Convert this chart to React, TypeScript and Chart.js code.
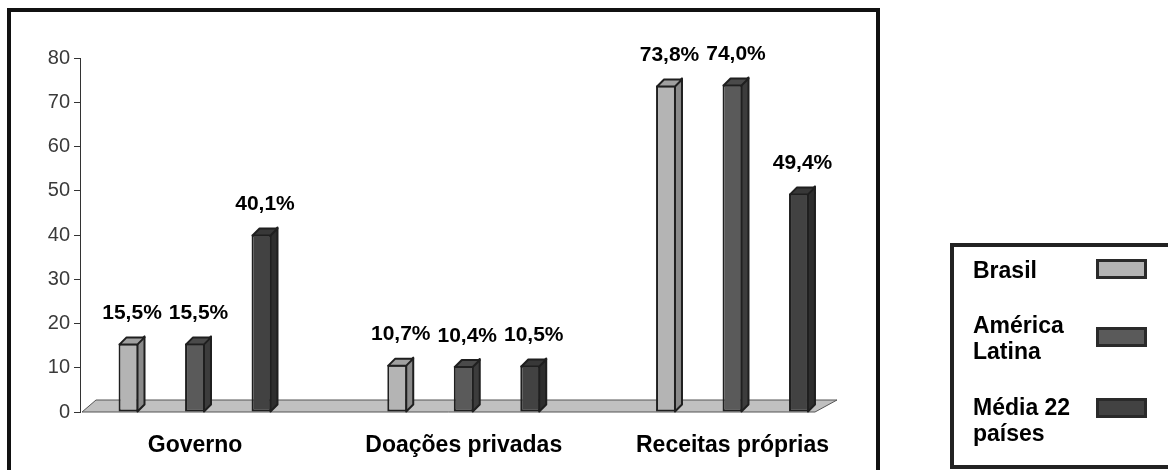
import React, { useEffect, useRef } from "react";
import { Chart, registerables } from "chart.js";

Chart.register(...registerables);

const categories = ["Governo", "Doações privadas", "Receitas próprias"];
const seriesNames = ["Brasil", "América Latina", "Média 22 países"];
const legendLines = [["Brasil"], ["América", "Latina"], ["Média 22", "países"]];
const brasil = [15.5, 10.7, 73.8];
const americaLatina = [15.5, 10.4, 74.0];
const media22 = [40.1, 10.5, 49.4];
const yTicks = [0, 10, 20, 30, 40, 50, 60, 70, 80];

const FONT = "'Liberation Sans', Arial, Helvetica, sans-serif";
const fronts = ["#b4b4b4", "#5a5a5a", "#424242"];
const sides = ["#8a8a8a", "#3c3c3c", "#2e2e2e"];
const tops = ["#a0a0a0", "#4a4a4a", "#383838"];
const EDGE = "#1f1f1f";
const DEPTH = 7;

const fmt = (v: number) => v.toFixed(1).replace(".", ",") + "%";

const threeD = {
  id: "threeD",
  beforeDatasetsDraw(chart: any) {
    const { ctx, chartArea, scales } = chart;
    const y0 = scales.y.getPixelForValue(0);
    ctx.save();
    ctx.beginPath();
    ctx.moveTo(chartArea.left + 2, y0);
    ctx.lineTo(chartArea.left + 16, y0 - 12);
    ctx.lineTo(chartArea.right - 3, y0 - 12);
    ctx.lineTo(chartArea.right - 25, y0);
    ctx.closePath();
    ctx.fillStyle = "#c0c0c0";
    ctx.fill();
    ctx.lineWidth = 1;
    ctx.strokeStyle = "#555";
    ctx.stroke();
    ctx.restore();
  },
  afterDatasetsDraw(chart: any) {
    const { ctx } = chart;
    ctx.save();
    chart.data.datasets.forEach((ds: any, di: number) => {
      const meta = chart.getDatasetMeta(di);
      meta.data.forEach((bar: any, i: number) => {
        const { x, y, base, width } = bar.getProps(["x", "y", "base", "width"], true);
        const L = x - width / 2;
        const R = x + width / 2;
        const d = DEPTH;
        ctx.lineWidth = 2;
        ctx.strokeStyle = EDGE;
        ctx.lineJoin = "round";
        ctx.beginPath();
        ctx.moveTo(R - 1, y);
        ctx.lineTo(R - 1 + d, y - d);
        ctx.lineTo(R - 1 + d, base - d);
        ctx.lineTo(R - 1, base);
        ctx.closePath();
        ctx.fillStyle = sides[di];
        ctx.fill();
        ctx.stroke();
        ctx.beginPath();
        ctx.moveTo(L + 1, y + 1);
        ctx.lineTo(L + 1 + d, y + 1 - d);
        ctx.lineTo(R - 1 + d, y + 1 - d);
        ctx.lineTo(R - 1, y + 1);
        ctx.closePath();
        ctx.fillStyle = tops[di];
        ctx.fill();
        ctx.stroke();
        ctx.fillStyle = "#000";
        ctx.font = `bold 21px ${FONT}`;
        ctx.textAlign = "center";
        ctx.textBaseline = "middle";
        ctx.fillText(fmt(ds.data[i].y), x + d / 2, y - 30);
      });
    });
    ctx.restore();
  },
  afterDraw(chart: any) {
    const { ctx } = chart;
    ctx.save();
    ctx.lineWidth = 4;
    ctx.strokeStyle = "#111";
    ctx.strokeRect(9, 10, 869, 500);
    ctx.strokeStyle = "#222";
    ctx.strokeRect(952, 245, 400, 222);
    ctx.font = `bold 23px ${FONT}`;
    ctx.fillStyle = "#000";
    ctx.textAlign = "left";
    ctx.textBaseline = "alphabetic";
    const firstBase = [278, 333, 415];
    const swatchTop = [259, 327, 398];
    legendLines.forEach((lines, k) => {
      lines.forEach((t, j) => ctx.fillText(t, 973, firstBase[k] + j * 26));
      ctx.fillStyle = fronts[k];
      ctx.fillRect(1097, swatchTop[k] + 1, 49, 18);
      ctx.lineWidth = 3;
      ctx.strokeStyle = "#2a2a2a";
      ctx.strokeRect(1097.5, swatchTop[k] + 1.5, 48, 17);
      ctx.fillStyle = "#000";
    });
    ctx.restore();
  },
};

export default function App() {
  const ref = useRef<HTMLCanvasElement | null>(null);
  useEffect(() => {
    if (!ref.current) return;
    const series = [brasil, americaLatina, media22];
    const chart = new Chart(ref.current, {
      type: "bar",
      data: {
        datasets: series.map((vals, k) => ({
          label: seriesNames[k],
          data: vals.map((v, i) => ({ x: i, y: v })),
          backgroundColor: fronts[k],
          borderColor: EDGE,
          borderWidth: 2,
          borderSkipped: false,
          categoryPercentage: 0.7423,
          barPercentage: 0.3,
        })),
      },
      options: {
        responsive: false,
        animation: false,
        layout: { padding: { left: 0, top: 58, right: 328, bottom: 0 } },
        plugins: { legend: { display: false }, tooltip: { enabled: false } },
        scales: {
          x: {
            type: "linear",
            offset: false,
            bounds: "data",
            min: -0.428,
            max: 2.4,
            afterBuildTicks: (s: any) => {
              s.ticks = categories.map((_, i) => ({ value: i }));
            },
            afterFit: (s: any) => {
              s.height = 58;
            },
            grid: { display: false, drawTicks: false, offset: false },
            border: { display: false },
            ticks: {
              autoSkip: false,
              maxRotation: 0,
              padding: 20,
              color: "#000",
              font: { family: FONT, size: 23, weight: "bold" },
              callback: (v: any) => categories[v as number] ?? "",
            },
          },
          y: {
            min: 0,
            max: 80,
            afterBuildTicks: (s: any) => {
              s.ticks = yTicks.map((v) => ({ value: v }));
            },
            afterFit: (s: any) => {
              s.width = 80;
            },
            grid: { display: true, drawOnChartArea: false, drawTicks: true, tickLength: 6, color: "#333" },
            border: { display: true, color: "#333", width: 1 },
            ticks: {
              padding: 4,
              color: "#3a3a3a",
              font: { family: FONT, size: 20 },
            },
          },
        },
      },
      plugins: [threeD],
    } as any);
    return () => chart.destroy();
  }, []);
  return (
    <div style={{ position: "absolute", left: 0, top: 0, width: 1168, height: 470, background: "#fff" }}>
      <canvas ref={ref} width={1168} height={470} style={{ display: "block" }} />
    </div>
  );
}
